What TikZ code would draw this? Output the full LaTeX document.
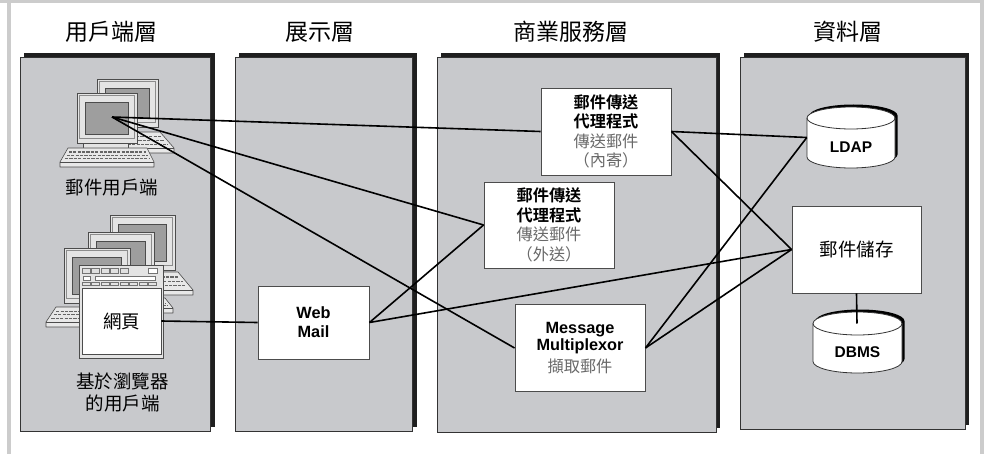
\documentclass[tikz,border=0pt]{standalone}
\usepackage{fontspec}
\setmainfont{Liberation Sans}
\newfontfamily\cjk[BoldFont={Noto Sans CJK TC Bold}]{Noto Sans CJK TC}
\definecolor{panelgray}{RGB}{200,201,204}
\definecolor{framegray}{RGB}{204,204,204}
\definecolor{monframe}{RGB}{228,228,228}
\definecolor{screengray}{RGB}{158,158,158}
\definecolor{kbfill}{RGB}{232,232,232}
\definecolor{textgray}{RGB}{105,105,105}

\tikzset{
  panel/.style={fill=panelgray, draw=black!80, line width=0.8pt},
  panelshade/.style={fill=black!88},
  box/.style={draw=black!70, fill=white, line width=0.9pt, align=center, inner sep=0pt},
  link/.style={line width=1.6pt, black},
  title/.style={font=\cjk\fontsize{23}{27}\selectfont},
  lbl/.style={font=\cjk\fontsize{18.5}{21.5}\selectfont, align=center},
  cjkbox/.style={font=\cjk\fontsize{16.2}{19.5}\selectfont},
  latbox/.style={font=\bfseries\fontsize{16.3}{19}\selectfont},
  devline/.style={draw=black!70, line width=0.6pt},
}

% CRT monitor: outer corners x1 y1 x2 y2
\newcommand\crtmon[4]{%
  \filldraw[fill=monframe, devline] (#1,#2) rectangle (#3,#4);
  \draw[black!45, line width=0.5pt] ({#1+2.5},{#2+2.5}) rectangle ({#3-2.5},{#4-5});
  \filldraw[fill=screengray, devline] ({#1+8},{#2+9}) rectangle ({#3-9},{#4-9});
}
% monitor foot: x1 x2 y
\newcommand\crtfoot[3]{%
  \filldraw[fill=monframe, devline] (#1,#3) rectangle (#2,{#3+5});
}
% keyboard: top-left x, top-right x, top y, bottom-left x, bottom-right x, bottom y
\newcommand\kbrd[6]{%
  \filldraw[fill=kbfill, devline, line join=round]
    (#1,#3) -- (#2,#3) -- (#5,#6) -- (#5,{#6+5}) -- (#4,{#6+5}) -- (#4,#6) -- cycle;
  \draw[devline] (#4,#6) -- (#5,#6);
  \foreach \t in {0.28,0.52,0.76}{
    \draw[black!60, line width=1.3pt, dash pattern=on 3.2pt off 1.2pt]
      ({#1+(#4-#1)*\t+3},{#3+(#6-#3)*\t}) -- ({#2+(#5-#2)*\t-3},{#3+(#6-#3)*\t});
  }
}
% database drum: centre x, top y, bottom y, x radius, y radius
\newcommand\dbdrum[5]{%
  \begin{scope}[shift={(2.5,-2.5)}]
    \fill[black] ({#1-#4},{#2+#5}) arc[start angle=180, end angle=360, x radius=#4, y radius=#5]
      -- ({#1+#4},{#3-#5}) arc[start angle=0, end angle=180, x radius=#4, y radius=#5] -- cycle;
  \end{scope}
  \filldraw[fill=white, draw=black!80, line width=0.8pt]
    ({#1-#4},{#2+#5}) arc[start angle=180, end angle=360, x radius=#4, y radius=#5]
      -- ({#1+#4},{#3-#5}) arc[start angle=0, end angle=180, x radius=#4, y radius=#5] -- cycle;
  \draw[black!80, line width=0.8pt]
    ({#1-#4},{#2+#5}) arc[start angle=180, end angle=0, x radius=#4, y radius=#5];
}

\begin{document}
\begin{tikzpicture}[x=1pt, y=-1pt]
  \useasboundingbox (0,0) rectangle (984,454);
  % outer frame
  \fill[framegray] (0,0) rectangle (984,3);
  \fill[framegray] (7,0) rectangle (10.5,454);
  \fill[framegray] (980,0) rectangle (983.5,454);

  % tier titles
  \node[title] (t1) at (111.5,32) {用戶端層};
  \node[title] (t2) at (320,32) {展示層};
  \node[title] (t3) at (571,32) {商業服務層};
  \node[title] (t4) at (848,32) {資料層};

  % tier panels with shadow
  \fill[panelshade] (24,53) rectangle (214.5,427);
  \filldraw[panel] (20,57) rectangle (210,431);
  \fill[panelshade] (239,53) rectangle (417,427);
  \filldraw[panel] (235,57) rectangle (412.5,431);
  \fill[panelshade] (441,53) rectangle (720,428);
  \filldraw[panel] (437,57) rectangle (716,432);
  \fill[panelshade] (744,53) rectangle (969,425);
  \filldraw[panel] (740,57) rectangle (965,429);

  % mail client workstation
  \crtmon{97}{79}{158}{127}
  \kbrd{100}{160}{132}{92}{174}{148}
  \crtmon{77}{93}{137}{143}
  \crtfoot{83}{128}{143}
  \kbrd{68}{147}{148}{60}{154}{162}
  \coordinate (hub) at (112,117);
  \node[lbl] (mailclient) at (112,188) {郵件用戶端};

  % browser client workstations
  \crtmon{110}{215}{175}{270}
  \kbrd{140}{178}{272}{128}{193}{290}
  \crtmon{88}{232}{154}{287}
  \kbrd{110}{165}{298}{100}{173}{308}
  \crtmon{64}{248}{130}{303}
  \kbrd{56}{130}{307}{46}{138}{322}
  % browser window
  \filldraw[fill=monframe, devline] (79,265) rectangle (163,358);
  \foreach \bx in {82,91.5,101,110.5,120}{
    \filldraw[fill=black!12, draw=black!55, line width=0.4pt] (\bx,268) rectangle ({\bx+8},273);
  }
  \filldraw[fill=white, draw=black!55, line width=0.4pt] (148,268) rectangle (157,273);
  \filldraw[fill=white, draw=black!55, line width=0.4pt] (83,276) rectangle (90,280);
  \filldraw[fill=white, draw=black!55, line width=0.4pt] (95,276) rectangle (155,280);
  \foreach \bx in {82,91.5,101,110.5,120,129.5,139,148.5}{
    \draw[black!55, line width=0.4pt] (\bx,282) rectangle ({\bx+8},285.5);
  }
  \node[fill=white, draw=black!70, line width=0.6pt, minimum width=79pt, minimum height=66pt,
        inner sep=0pt, font=\cjk\fontsize{18.5}{21}\selectfont] (page) at (121.5,321) {網頁};
  \node[lbl] (browserclient) at (122.5,392.5) {基於瀏覽器\\的用戶端};

  % presentation tier
  \node[box, latbox, minimum width=111pt, minimum height=73pt] (webmail) at (313.5,322.5) {Web\\Mail};

  % business service tier
  \node[box, cjkbox, minimum width=130pt, minimum height=87pt] (inbox) at (606,131.5)
    {{\bfseries 郵件傳送}\\{\bfseries 代理程式}\\{\color{textgray}傳送郵件}\\{\color{textgray}（內寄）}};
  \node[box, cjkbox, minimum width=130pt, minimum height=86pt] (outbox) at (549,225)
    {{\bfseries 郵件傳送}\\{\bfseries 代理程式}\\{\color{textgray}傳送郵件}\\{\color{textgray}（外送）}};
  \node[box, minimum width=130pt, minimum height=87pt] (mmp) at (580,348)
    {{\bfseries\fontsize{16.3}{19.5}\selectfont Message}\\{\bfseries\fontsize{16.3}{19.5}\selectfont Multiplexor}\\[4pt]{\cjk\fontsize{16.2}{19.5}\selectfont\color{textgray}擷取郵件}};

  % data tier
  \node[box, font=\cjk\fontsize{18.5}{21}\selectfont, minimum width=129pt, minimum height=87pt] (store) at (856.5,249.5) {郵件儲存};
  \dbdrum{851}{107}{168}{44}{11}
  \node[minimum width=88pt, minimum height=61pt, inner sep=0pt] (ldap) at (851,137.5) {};
  \node[font=\bfseries\fontsize{15.5}{18}\selectfont] (ldaptext) at (851,147) {LDAP};
  \dbdrum{857.5}{312}{373}{44.5}{11.5}
  \node[minimum width=89pt, minimum height=61pt, inner sep=0pt] (dbms) at (857.5,342.5) {};
  \node[font=\bfseries\fontsize{15.5}{18}\selectfont] (dbmstext) at (857.5,352) {DBMS};
  \coordinate (dbmstop) at (857,323.5);

  % connections
  \draw[link] (hub) -- (inbox.west);
  \draw[link] (hub) -- (outbox.west);
  \draw[link] (hub) -- (mmp.west);
  \draw[link] (page.east) -- (webmail.west);
  \draw[link] (webmail.east) -- (outbox.west);
  \draw[link] (webmail.east) -- (store.west);
  \draw[link] (inbox.east) -- (ldap.west);
  \draw[link] (inbox.east) -- (store.west);
  \draw[link] (mmp.east) -- (ldap.west);
  \draw[link] (mmp.east) -- (store.west);
  \draw[link] (store.south) -- (dbmstop);
\end{tikzpicture}
\end{document}
